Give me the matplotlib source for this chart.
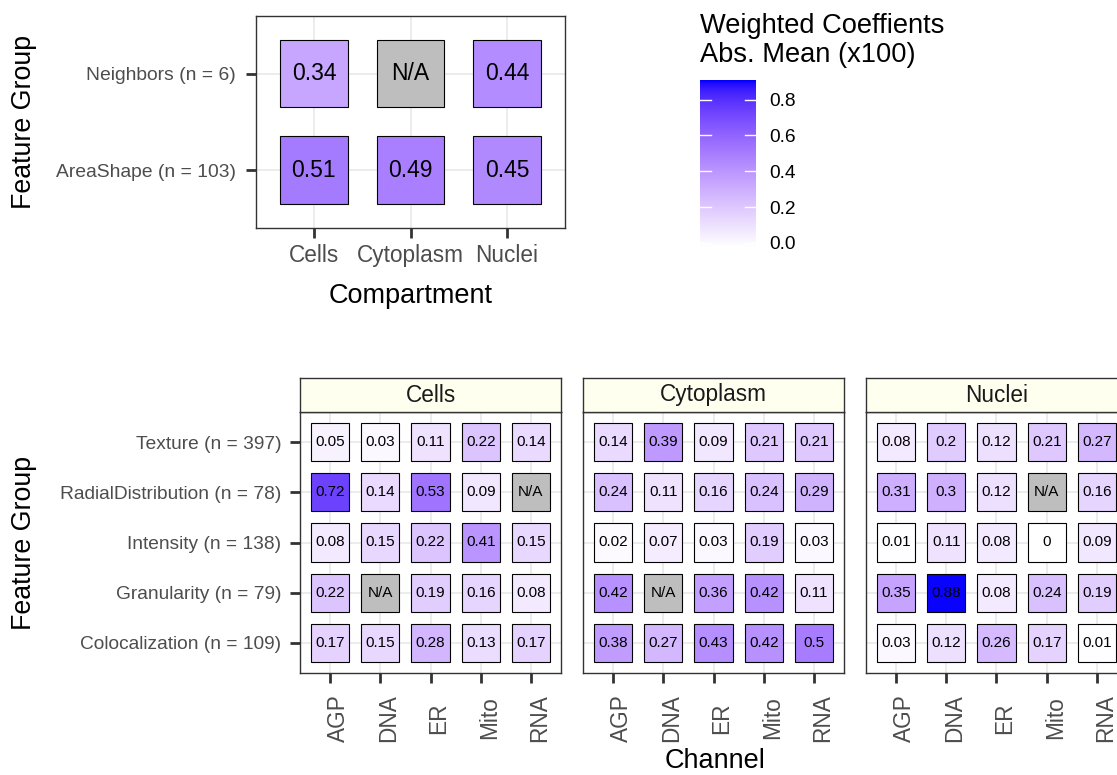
import numpy as np
import matplotlib
matplotlib.use("Agg")
import matplotlib.pyplot as plt
from matplotlib.colors import ListedColormap, Normalize
from matplotlib.patches import Rectangle
import matplotlib.transforms as mtransforms

plt.rcParams['font.family'] = ['Liberation Sans', 'DejaVu Sans']

# ---------------- data ----------------
compartments = ["Cells", "Cytoplasm", "Nuclei"]
top_groups = ["Neighbors (n = 6)", "AreaShape (n = 103)"]
top_values = [
    [0.34, np.nan, 0.44],
    [0.51, 0.49, 0.45],
]

channels = ["AGP", "DNA", "ER", "Mito", "RNA"]
bottom_groups = ["Texture (n = 397)", "RadialDistribution (n = 78)",
                 "Intensity (n = 138)", "Granularity (n = 79)",
                 "Colocalization (n = 109)"]
cells_values = [
    [0.05, 0.03, 0.11, 0.22, 0.14],
    [0.72, 0.14, 0.53, 0.09, np.nan],
    [0.08, 0.15, 0.22, 0.41, 0.15],
    [0.22, np.nan, 0.19, 0.16, 0.08],
    [0.17, 0.15, 0.28, 0.13, 0.17],
]
cytoplasm_values = [
    [0.14, 0.39, 0.09, 0.21, 0.21],
    [0.24, 0.11, 0.16, 0.24, 0.29],
    [0.02, 0.07, 0.03, 0.19, 0.03],
    [0.42, np.nan, 0.36, 0.42, 0.11],
    [0.38, 0.27, 0.43, 0.42, 0.5],
]
nuclei_values = [
    [0.08, 0.2, 0.12, 0.21, 0.27],
    [0.31, 0.3, 0.12, np.nan, 0.16],
    [0.01, 0.11, 0.08, 0, 0.09],
    [0.35, 0.88, 0.08, 0.24, 0.19],
    [0.03, 0.12, 0.26, 0.17, 0.01],
]
facet_values = [cells_values, cytoplasm_values, nuclei_values]

legend_title_lines = ["Weighted Coeffients", "Abs. Mean (x100)"]
legend_ticks = [0.0, 0.2, 0.4, 0.6, 0.8]
scale_max = 0.886

# ---------------- colour scale (white -> blue, Lab interpolation) ----------------
def _to_lin(c):
    return np.where(c <= 0.04045, c / 12.92, ((c + 0.055) / 1.055) ** 2.4)

def _to_srgb(c):
    c = np.clip(c, 0, 1)
    return np.where(c <= 0.0031308, 12.92 * c, 1.055 * c ** (1 / 2.4) - 0.055)

M = np.array([[0.4124, 0.3576, 0.1805],
              [0.2126, 0.7152, 0.0722],
              [0.0193, 0.1192, 0.9505]])
Minv = np.linalg.inv(M)
WHITE = np.array([0.95047, 1.0, 1.08883])
d = 6 / 29

def _f(t):
    return np.where(t > d ** 3, np.cbrt(t), t / (3 * d * d) + 4 / 29)

def _finv(t):
    return np.where(t > d, t ** 3, 3 * d * d * (t - 4 / 29))

def rgb2lab(rgb):
    xyz = M @ _to_lin(np.asarray(rgb, float)) / WHITE
    fx, fy, fz = _f(xyz)
    return np.array([116 * fy - 16, 500 * (fx - fy), 200 * (fy - fz)])

def lab2rgb(lab):
    L, a, b = lab
    fy = (L + 16) / 116
    fx = fy + a / 500
    fz = fy - b / 200
    xyz = np.array([_finv(fx), _finv(fy), _finv(fz)]) * WHITE
    return _to_srgb(Minv @ xyz)

lab_lo = rgb2lab([1, 1, 1])
lab_hi = rgb2lab([0, 0, 1])
cols = [np.clip(lab2rgb(lab_lo + t * (lab_hi - lab_lo)), 0, 1) for t in np.linspace(0, 1, 256)]
cmap = ListedColormap(cols)
norm = Normalize(0, scale_max)
NA_COLOR = "#BEBEBE"

def fill(v):
    return NA_COLOR if np.isnan(v) else cmap(norm(v))

def lab(v):
    return "N/A" if np.isnan(v) else f"{v:g}"

# ---------------- figure ----------------
W, H = 1117, 775
fig = plt.figure(figsize=(W / 100, H / 100), dpi=100)

def px_axes(x0, y0, x1, y1):
    return fig.add_axes([x0 / W, 1 - y1 / H, (x1 - x0) / W, (y1 - y0) / H])

BORDER = "#333333"
GRID = "#EBEBEB"
TICKTXT = "#4D4D4D"

def style_panel(ax):
    for s in ax.spines.values():
        s.set_color(BORDER)
        s.set_linewidth(1.0)
    ax.grid(True, color=GRID, lw=1.3)
    ax.set_axisbelow(True)
    ax.tick_params(length=7.2, width=2.0, color=BORDER, labelcolor=TICKTXT)

# ---- top panel ----
ax = px_axes(256, 15.7, 565, 228)
nx, ny = len(compartments), len(top_groups)
ax.set_xlim(0.4, nx + 0.6)
ax.set_ylim(0.4, ny + 0.6)
style_panel(ax)
ax.set_xticks(np.arange(1, nx + 1))
ax.set_xticklabels(compartments, fontsize=16.3)
ax.set_yticks(np.arange(1, ny + 1))
ax.set_yticklabels(top_groups[::-1], fontsize=13.9)
ax.tick_params(axis='x', pad=4.0)
ax.tick_params(axis='y', pad=7.5)
ts = 0.7
for i, row in enumerate(top_values):
    y = ny - i
    for j, v in enumerate(row):
        x = j + 1
        ax.add_patch(Rectangle((x - ts / 2, y - ts / 2), ts, ts, facecolor=fill(v),
                               edgecolor="black", lw=0.8, zorder=2))
        ax.text(x, y, lab(v), ha="center", va="center", fontsize=16.5, color="black", zorder=3)

fig.text(24 / W, 1 - 122 / H, "Feature Group", rotation=90, ha="center", va="center", fontsize=19.3)
fig.text(410.5 / W, 1 - 303.3 / H, "Compartment", ha="center", va="baseline", fontsize=19.5)

# ---- legend ----
cax = px_axes(700, 80, 756, 247)
pad_v = 0.025 * scale_max / 0.95
ylo, yhi = -pad_v, scale_max + pad_v
grad = np.linspace(0, scale_max, 400)[:, None]
cax.imshow(grad, extent=[0, 1, ylo, yhi], aspect="auto", origin="lower", cmap=cmap, norm=norm)
cax.set_xlim(0, 1)
cax.set_ylim(ylo, yhi)
for t in legend_ticks:
    cax.plot([0, 0.2], [t, t], color="white", lw=1.0)
    cax.plot([0.8, 1], [t, t], color="white", lw=1.0)
for s in cax.spines.values():
    s.set_visible(False)
cax.set_xticks([])
cax.yaxis.tick_right()
cax.set_yticks(legend_ticks)
cax.set_yticklabels([f"{t:.1f}" for t in legend_ticks], fontsize=13.8, color="black")
cax.tick_params(axis="y", length=0, pad=9.6)
fig.text(700 / W, 1 - 33 / H, legend_title_lines[0], ha="left", va="baseline", fontsize=19.6)
fig.text(700 / W, 1 - 61.7 / H, legend_title_lines[1], ha="left", va="baseline", fontsize=19.6)

# ---- bottom facets ----
nc, nr = len(channels), len(bottom_groups)
bs = 0.76
for k, (comp, vals) in enumerate(zip(compartments, facet_values)):
    x0 = 300 + k * 283
    ax = px_axes(x0, 412, x0 + 261, 673)
    ax.set_xlim(0.4, nc + 0.6)
    ax.set_ylim(0.4, nr + 0.6)
    style_panel(ax)
    ax.set_xticks(np.arange(1, nc + 1))
    ax.set_xticklabels([])
    ax.set_yticks(np.arange(1, nr + 1))
    if k == 0:
        ax.set_yticklabels(bottom_groups[::-1], fontsize=13.8)
        ax.tick_params(axis="y", pad=6.3)
    else:
        ax.set_yticklabels([])
        ax.tick_params(axis="y", left=False)
    for i, row in enumerate(vals):
        y = nr - i
        for j, v in enumerate(row):
            x = j + 1
            ax.add_patch(Rectangle((x - bs / 2, y - bs / 2), bs, bs, facecolor=fill(v),
                                   edgecolor="black", lw=0.8, zorder=2))
            ax.text(x, y, lab(v), ha="center", va="center", fontsize=11, color="black", zorder=3)
    trans = mtransforms.blended_transform_factory(ax.transData, ax.transAxes)
    trans = mtransforms.offset_copy(trans, fig=fig, x=8.5, y=-45, units="dots")
    for j, ch in enumerate(channels):
        ax.text(j + 1, 0, ch, transform=trans, rotation=90, ha="center", va="center",
                fontsize=16.3, color=TICKTXT)
    # strip
    sax = px_axes(x0, 378, x0 + 261, 412)
    sax.set_facecolor("#FFFFF0")
    sax.set_xticks([])
    sax.set_yticks([])
    for s in sax.spines.values():
        s.set_color(BORDER)
        s.set_linewidth(1.0)
    sax.text(0.5, 0.5, comp, transform=sax.transAxes, ha="center", va="center",
             fontsize=16.3, color="#1A1A1A")

fig.text(24 / W, 1 - 542.5 / H, "Feature Group", rotation=90, ha="center", va="center", fontsize=19.3)
fig.text(715 / W, 1 / H, "Channel", ha="center", va="bottom", fontsize=19.5)

fig.savefig("out.png", dpi=100)
